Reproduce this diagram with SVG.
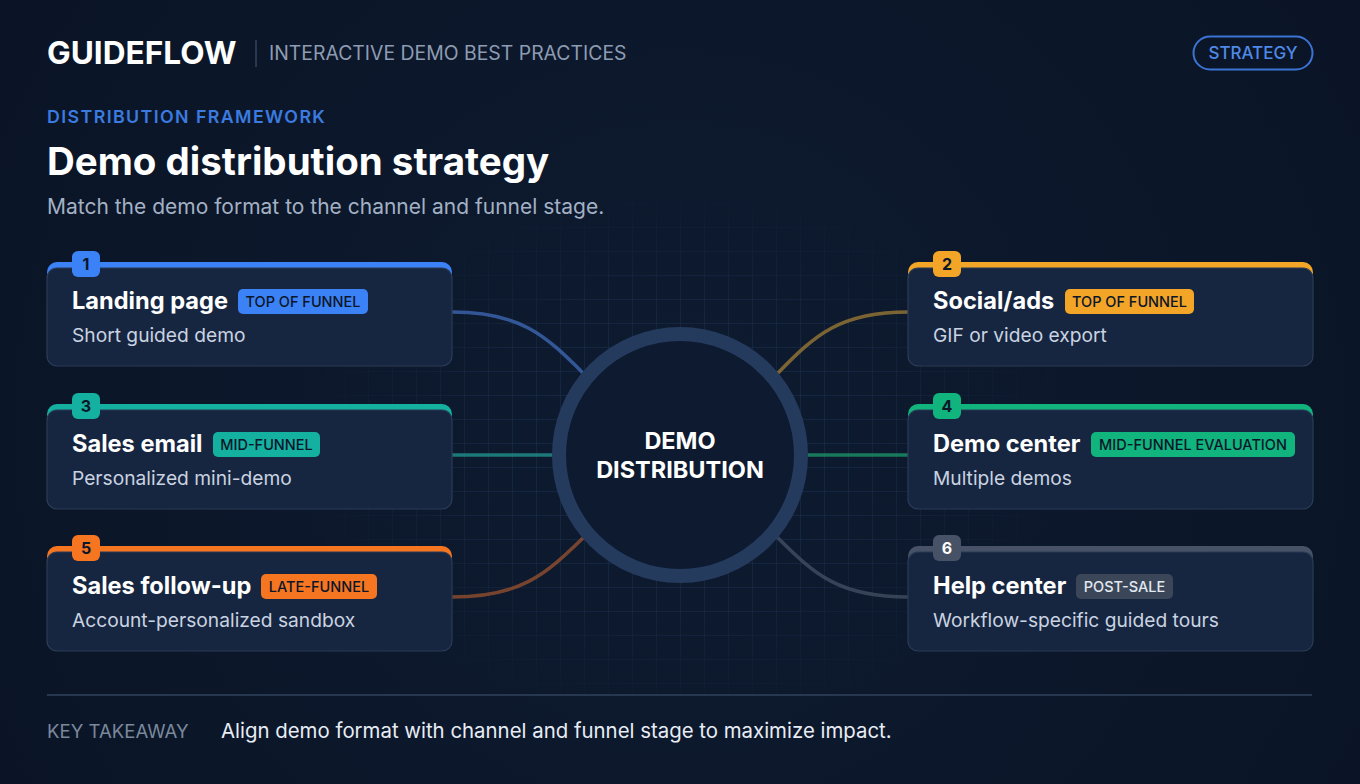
<svg xmlns="http://www.w3.org/2000/svg" width="1360" height="784" viewBox="0 0 1360 784">
<defs>
<style>
.t{font-family:Inter,"Liberation Sans",sans-serif}
.card{fill:#172640;stroke:#2a3b57;stroke-width:1.2}
.title{font-family:Inter,"Liberation Sans",sans-serif;font-weight:700;font-size:23.6px;fill:#ffffff}
.sub{font-family:Inter,"Liberation Sans",sans-serif;font-size:19.2px;fill:#c9d3e1}
.badge{font-family:Inter,"Liberation Sans",sans-serif;font-weight:500;font-size:14.5px;fill:#0b1629;text-anchor:middle}
.num{font-family:Inter,"Liberation Sans",sans-serif;font-weight:700;font-size:16px;fill:#0b1629;text-anchor:middle}
.conn{fill:none;stroke-width:3.5;stroke-linecap:round}
</style>
<pattern id="grid" width="24" height="24" patternUnits="userSpaceOnUse" x="8" y="11">
<path d="M24 0 L0 0 0 24" fill="none" stroke="#223759" stroke-width="1"/>
</pattern>
<radialGradient id="fade" cx="680" cy="455" r="380" gradientUnits="userSpaceOnUse" gradientTransform="translate(680 455) scale(1 0.72) translate(-680 -455)">
<stop offset="0" stop-color="#fff" stop-opacity="1"/>
<stop offset="0.6" stop-color="#fff" stop-opacity="0.7"/>
<stop offset="1" stop-color="#fff" stop-opacity="0"/>
</radialGradient>
<mask id="gm"><rect x="0" y="0" width="1360" height="784" fill="url(#fade)"/></mask>
<radialGradient id="bg" cx="680" cy="430" r="800" gradientUnits="userSpaceOnUse">
<stop offset="0" stop-color="#0e1b30"/>
<stop offset="1" stop-color="#0a1426"/>
</radialGradient>
</defs>
<rect width="1360" height="784" fill="url(#bg)"/>
<rect x="0" y="200" width="1360" height="500" fill="url(#grid)" mask="url(#gm)"/>

<g id="header">
<text class="t" x="47" y="64" font-size="31.6" font-weight="700" fill="#ffffff">GUIDEFLOW</text>
<line x1="256" y1="40" x2="256" y2="67" stroke="#34455e" stroke-width="1.5"/>
<text class="t" x="269" y="60" font-size="19.4" fill="#8e9cb2">INTERACTIVE DEMO BEST PRACTICES</text>
<rect x="1193.5" y="36.5" width="119" height="33" rx="16.5" fill="none" stroke="#3b74d4" stroke-width="2"/>
<text class="t" x="1253" y="59" font-size="17" font-weight="500" fill="#4f8ae6" text-anchor="middle">STRATEGY</text>
<text class="t" x="47" y="123" font-size="17.8" font-weight="600" fill="#3b7be0" letter-spacing="1.4">DISTRIBUTION FRAMEWORK</text>
<text class="t" x="47" y="175" font-size="38.5" font-weight="700" fill="#ffffff">Demo distribution strategy</text>
<text class="t" x="47" y="214" font-size="21" fill="#a3b1c4">Match the demo format to the channel and funnel stage.</text>
</g>

<g id="connectors">
<path class="conn" d="M452 312 C520 312 545 335 583 373" stroke="#3a62a8" stroke-opacity="0.85"/>
<path class="conn" d="M908 312 C840 312 815 335 778 373" stroke="#8f7235" stroke-opacity="0.85"/>
<path class="conn" d="M452 455 L560 455" stroke="#1f8a86" stroke-opacity="0.85"/>
<path class="conn" d="M800 455 L908 455" stroke="#1b8a64" stroke-opacity="0.85"/>
<path class="conn" d="M452 597 C520 597 545 575 583 538" stroke="#8a4c2f" stroke-opacity="0.85"/>
<path class="conn" d="M908 597 C840 597 815 575 778 538" stroke="#3e4b5f" stroke-opacity="0.85"/>
</g>

<g id="hub">
<circle cx="680" cy="455" r="121" fill="#0d1a30" stroke="#243b5e" stroke-width="14"/>
<text class="t" x="680" y="449" font-size="23.5" font-weight="700" fill="#ffffff" text-anchor="middle">DEMO</text>
<text class="t" x="680" y="478" font-size="23.5" font-weight="700" fill="#ffffff" text-anchor="middle">DISTRIBUTION</text>
</g>

<g id="card1">
<rect x="47" y="262" width="405" height="104" rx="10" fill="#3b82f6"/>
<rect class="card" x="47" y="268" width="405" height="98" rx="10"/>
<rect x="72" y="251" width="28" height="26" rx="6" fill="#3b82f6"/>
<text class="num" x="86" y="270">1</text>
<text class="title" x="72" y="309">Landing page</text>
<rect x="238" y="289" width="130" height="25" rx="5" fill="#3b82f6"/>
<text class="badge" x="303" y="306.5">TOP OF FUNNEL</text>
<text class="sub" x="72" y="342">Short guided demo</text>
</g>

<g id="card2">
<rect x="908" y="262" width="405" height="104" rx="10" fill="#f2a526"/>
<rect class="card" x="908" y="268" width="405" height="98" rx="10"/>
<rect x="933" y="251" width="28" height="26" rx="6" fill="#f2a526"/>
<text class="num" x="947" y="270">2</text>
<text class="title" x="933" y="309">Social/ads</text>
<rect x="1065" y="289" width="129" height="25" rx="5" fill="#f2a526"/>
<text class="badge" x="1129.5" y="306.5">TOP OF FUNNEL</text>
<text class="sub" x="933" y="342">GIF or video export</text>
</g>

<g id="card3">
<rect x="47" y="404" width="405" height="105" rx="10" fill="#14b0a0"/>
<rect class="card" x="47" y="410" width="405" height="99" rx="10"/>
<rect x="72" y="393" width="28" height="26" rx="6" fill="#14b0a0"/>
<text class="num" x="86" y="412">3</text>
<text class="title" x="72" y="452">Sales email</text>
<rect x="213" y="432" width="107" height="25" rx="5" fill="#14b0a0"/>
<text class="badge" x="266.5" y="449.5">MID-FUNNEL</text>
<text class="sub" x="72" y="485">Personalized mini-demo</text>
</g>

<g id="card4">
<rect x="908" y="404" width="405" height="105" rx="10" fill="#12b47e"/>
<rect class="card" x="908" y="410" width="405" height="99" rx="10"/>
<rect x="933" y="393" width="28" height="26" rx="6" fill="#12b47e"/>
<text class="num" x="947" y="412">4</text>
<text class="title" x="933" y="452">Demo center</text>
<rect x="1091" y="432" width="204" height="25" rx="5" fill="#12b47e"/>
<text class="badge" x="1193" y="449.5">MID-FUNNEL EVALUATION</text>
<text class="sub" x="933" y="485">Multiple demos</text>
</g>

<g id="card5">
<rect x="47" y="546" width="405" height="105" rx="10" fill="#f57521"/>
<rect class="card" x="47" y="552" width="405" height="99" rx="10"/>
<rect x="72" y="535" width="28" height="26" rx="6" fill="#f57521"/>
<text class="num" x="86" y="554">5</text>
<text class="title" x="72" y="594">Sales follow-up</text>
<rect x="261" y="574" width="116" height="25" rx="5" fill="#f57521"/>
<text class="badge" x="319" y="591.5">LATE-FUNNEL</text>
<text class="sub" x="72" y="627">Account-personalized sandbox</text>
</g>

<g id="card6">
<rect x="908" y="546" width="405" height="105" rx="10" fill="#475266"/>
<rect class="card" x="908" y="552" width="405" height="99" rx="10"/>
<rect x="933" y="535" width="28" height="26" rx="6" fill="#475266"/>
<text class="num" x="947" y="554" style="fill:#ffffff">6</text>
<text class="title" x="933" y="594">Help center</text>
<rect x="1076" y="574" width="97" height="25" rx="5" fill="#3b4759"/>
<text class="badge" x="1124.5" y="591.5" style="fill:#e2e8f0">POST-SALE</text>
<text class="sub" x="933" y="627">Workflow-specific guided tours</text>
</g>

<g id="footer">
<line x1="47" y1="695" x2="1312" y2="695" stroke="#26374f" stroke-width="2"/>
<text class="t" x="47" y="738" font-size="18.6" fill="#7a889c">KEY TAKEAWAY</text>
<text class="t" x="221" y="738" font-size="20.4" fill="#e8edf5">Align demo format with channel and funnel stage to maximize impact.</text>
</g>
</svg>
